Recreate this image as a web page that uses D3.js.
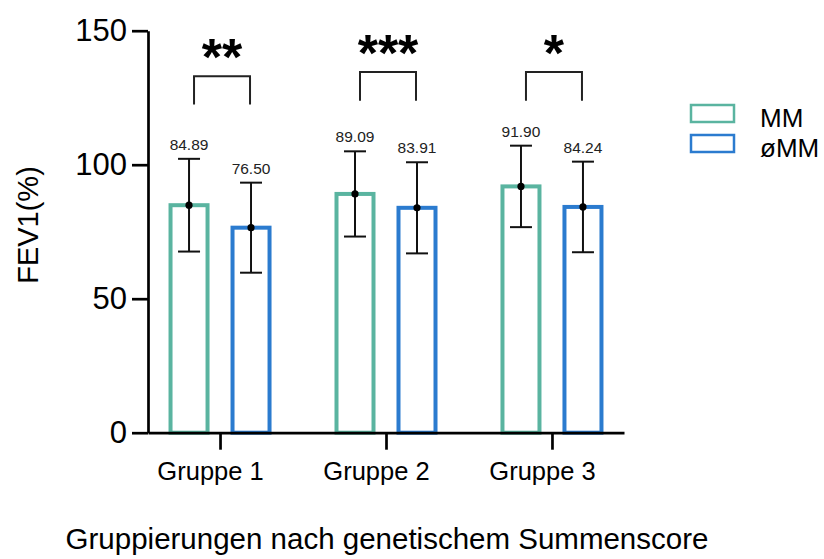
<!DOCTYPE html>
<html>
<head>
<meta charset="utf-8">
<script src="https://cdn.jsdelivr.net/npm/d3@7"></script>
<style>
  html, body { margin: 0; padding: 0; background: #fff; }
  svg { display: block; font-family: "Liberation Sans", Arial, Helvetica, sans-serif; }
</style>
</head>
<body>
<svg id="chart" width="824" height="559"></svg>
<script>
// ---- data ----
const groups = ["Gruppe 1", "Gruppe 2", "Gruppe 3"];
const series = ["MM", "øMM"];
const meansMM = [84.89, 89.09, 91.90];
const meansNoMM = [76.50, 83.91, 84.24];
const sdMM = [17.3, 15.9, 15.2];
const sdNoMM = [16.8, 17.0, 16.9];
const significance = ["**", "***", "*"];
const bracketTop = [133.0, 134.6, 134.6];
const bracketBottom = [122.5, 123.9, 123.9];
const yTicks = [0, 50, 100, 150];
const yLabel = "FEV1(%)";
const xLabel = "Gruppierungen nach genetischem Summenscore";
const colors = { "MM": "#5ab4a0", "øMM": "#2b7bcf" };

// ---- layout ----
const svg = d3.select("#chart");
const plot = { left: 148, right: 624, top: 30.7, bottom: 432.7 };

const y = d3.scaleLinear().domain([0, 150]).range([plot.bottom, plot.top]);
const x = d3.scalePoint().domain(groups).range([plot.left, plot.right]).padding(0.434);
const xs = d3.scaleBand().domain(series).range([-50, 50]).paddingInner(0.387);

const rows = [];
groups.forEach((g, i) => {
  rows.push({ g, s: "MM", v: meansMM[i], sd: sdMM[i] });
  rows.push({ g, s: "øMM", v: meansNoMM[i], sd: sdNoMM[i] });
});
const cx = d => x(d.g) + xs(d.s) + xs.bandwidth() / 2;

// bars
svg.append("g").selectAll("rect").data(rows).join("rect")
  .attr("x", d => cx(d) - (xs.bandwidth() - 1) / 2)
  .attr("width", xs.bandwidth() - 1)
  .attr("y", d => y(d.v))
  .attr("height", d => y(0) - y(d.v))
  .attr("fill", "#fff")
  .attr("stroke", d => colors[d.s])
  .attr("stroke-width", 4);

// error bars
const eb = svg.append("g").attr("stroke", "#111").attr("stroke-width", 2);
eb.selectAll("line.v").data(rows).join("line").attr("class", "v")
  .attr("x1", cx).attr("x2", cx)
  .attr("y1", d => y(d.v + d.sd)).attr("y2", d => y(d.v - d.sd));
eb.selectAll("line.t").data(rows).join("line").attr("class", "t")
  .attr("x1", d => cx(d) - 11).attr("x2", d => cx(d) + 11)
  .attr("y1", d => y(d.v + d.sd)).attr("y2", d => y(d.v + d.sd));
eb.selectAll("line.b").data(rows).join("line").attr("class", "b")
  .attr("x1", d => cx(d) - 11).attr("x2", d => cx(d) + 11)
  .attr("y1", d => y(d.v - d.sd)).attr("y2", d => y(d.v - d.sd));
svg.append("g").selectAll("circle").data(rows).join("circle")
  .attr("cx", cx).attr("cy", d => y(d.v)).attr("r", 3.6).attr("fill", "#000");

// value labels
svg.append("g").selectAll("text").data(rows).join("text")
  .attr("x", cx).attr("y", d => y(d.v + d.sd) - 9)
  .attr("text-anchor", "middle")
  .attr("font-size", 15.5).attr("fill", "#222")
  .text(d => d.v.toFixed(2));

// brackets + stars
groups.forEach((g, i) => {
  const l = x(g) + xs("MM") + xs.bandwidth() / 2 + 5;
  const r = x(g) + xs("øMM") + xs.bandwidth() / 2 - 1;
  svg.append("path")
    .attr("d", `M${l},${y(bracketBottom[i])}V${y(bracketTop[i])}H${r}V${y(bracketBottom[i])}`)
    .attr("fill", "none").attr("stroke", "#222").attr("stroke-width", 2);
  svg.append("text")
    .attr("x", (l + r) / 2).attr("y", y(bracketTop[i]) - 1)
    .attr("text-anchor", "middle")
    .attr("font-size", 52).attr("font-weight", "bold").attr("fill", "#000")
    .text(significance[i]);
});

// y axis
const yAxis = svg.append("g")
  .attr("transform", `translate(${plot.left},0)`)
  .call(d3.axisLeft(y).tickValues(yTicks).tickSize(16).tickSizeOuter(0).tickPadding(5));
yAxis.select(".domain").attr("stroke", "#000").attr("stroke-width", 2.7);
yAxis.selectAll(".tick line").attr("stroke", "#000").attr("stroke-width", 2.7);
yAxis.selectAll(".tick text").attr("font-size", 31).attr("fill", "#000")
  .attr("font-family", "Liberation Sans, Arial, sans-serif");

// x axis
const xAxis = svg.append("g")
  .attr("transform", `translate(0,${plot.bottom})`)
  .call(d3.axisBottom(x).tickSize(17).tickSizeOuter(0).tickPadding(12));
xAxis.select(".domain").attr("stroke", "#000").attr("stroke-width", 2.7);
xAxis.selectAll(".tick line").attr("stroke", "#000").attr("stroke-width", 2.7);
xAxis.selectAll(".tick text").attr("font-size", 25.5).attr("fill", "#000")
  .attr("dx", -10)
  .attr("font-family", "Liberation Sans, Arial, sans-serif");

// axis titles
svg.append("text")
  .attr("transform", `translate(38,225) rotate(-90)`)
  .attr("text-anchor", "middle")
  .attr("font-size", 29).attr("fill", "#000")
  .text(yLabel);
svg.append("text")
  .attr("x", 387).attr("y", 549)
  .attr("text-anchor", "middle")
  .attr("font-size", 29.5).attr("fill", "#000")
  .text(xLabel);

// legend
const leg = svg.append("g").selectAll("g").data(series).join("g")
  .attr("transform", (d, i) => `translate(691,${105 + i * 30})`);
leg.append("rect").attr("width", 43).attr("height", 17)
  .attr("fill", "#fff").attr("stroke", d => colors[d]).attr("stroke-width", 2.5);
leg.append("text").attr("x", 69).attr("y", 22)
  .attr("font-size", 26).attr("fill", "#000").text(d => d);
</script>
</body>
</html>
